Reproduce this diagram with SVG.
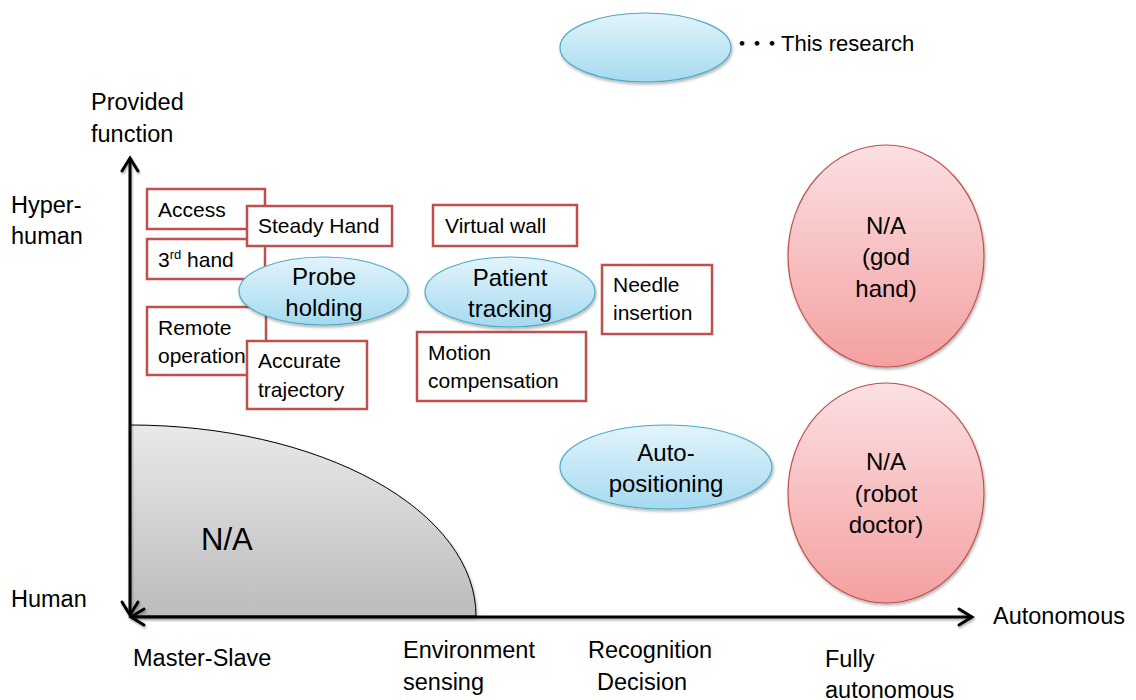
<svg xmlns="http://www.w3.org/2000/svg" width="1136" height="700" viewBox="0 0 1136 700">
<defs>
<style>
text{font-family:"Liberation Sans","Noto Sans",Arial,sans-serif;fill:#000}
.lbl{font-size:23.5px}
.box rect{fill:#fff;stroke:#c0504d;stroke-width:2.5}
.box text{font-size:21px}
.blue ellipse{fill:url(#gBlue);stroke:#4bacc6;stroke-width:1.2;filter:url(#sh)}
.blue text,.red text{font-size:24px;text-anchor:middle}
.red ellipse{fill:url(#gRed);stroke:#c0504d;stroke-width:1.2;filter:url(#sh)}
.axis{stroke:#000;stroke-width:3;fill:none;marker-start:url(#arr);marker-end:url(#arr);filter:url(#shU)}
</style>
<linearGradient id="gBlue" x1="0" y1="0" x2="0" y2="1">
<stop offset="0" stop-color="#e2f4fb"/><stop offset="1" stop-color="#a5daf0"/>
</linearGradient>
<linearGradient id="gRed" x1="0" y1="0" x2="0" y2="1">
<stop offset="0" stop-color="#fbe0e3"/><stop offset="1" stop-color="#f4a0a0"/>
</linearGradient>
<linearGradient id="gGray" x1="0" y1="0" x2="0" y2="1">
<stop offset="0" stop-color="#e9e9e9"/><stop offset="1" stop-color="#bcbcbc"/>
</linearGradient>
<filter id="sh" x="-10%" y="-10%" width="130%" height="130%">
<feDropShadow dx="1" dy="2" stdDeviation="1.5" flood-color="#000" flood-opacity="0.3"/>
</filter>
<filter id="shU" filterUnits="userSpaceOnUse" x="0" y="0" width="1136" height="700">
<feDropShadow dx="1" dy="2" stdDeviation="1.2" flood-color="#000" flood-opacity="0.3"/>
</filter>
<marker id="arr" markerUnits="userSpaceOnUse" markerWidth="24" markerHeight="24" viewBox="-18 -12 24 24" refX="0" refY="0" orient="auto-start-reverse">
<path d="M-13,-8 L0,0 L-13,8" fill="none" stroke="#000" stroke-width="3" stroke-linecap="round" stroke-linejoin="miter"/>
</marker>
</defs>
<rect width="1136" height="700" fill="#fff"/>

<g id="na-region">
<path d="M130,616 L130,425 A346,191 0 0 1 476,616 Z" fill="url(#gGray)" stroke="#000" stroke-width="1" filter="url(#sh)"/>
<text x="201" y="550" style="font-size:31px">N/A</text>
</g>

<g id="connectors">
<path class="axis" d="M130,615 L130,158"/>
<path class="axis" d="M131,617 L972,617"/>
</g>

<g id="legend" class="blue">
<ellipse cx="645.5" cy="47.5" rx="85.5" ry="34.5"/>
<text style="font-size:22px;text-anchor:start;font-family:'Liberation Sans','Noto Sans CJK JP',sans-serif" y="51"><tspan x="731 746 761">・・・</tspan><tspan x="781">This research</tspan></text>
</g>

<g id="axis-labels" class="lbl">
<text x="91" y="110">Provided</text>
<text x="91" y="142">function</text>
<text x="11" y="213">Hyper-</text>
<text x="11" y="244">human</text>
<text x="11" y="607">Human</text>
<text x="133" y="666">Master-Slave</text>
<text x="403" y="658">Environment</text>
<text x="403" y="690">sensing</text>
<text x="588" y="658">Recognition</text>
<text x="597" y="690">Decision</text>
<text x="825" y="667">Fully</text>
<text x="825" y="698">autonomous</text>
<text x="993" y="624">Autonomous</text>
</g>

<g id="access" class="box">
<rect x="147" y="189" width="118" height="40"/>
<text x="158" y="217">Access</text>
</g>
<g id="third-hand" class="box">
<rect x="147" y="239" width="118" height="40"/>
<text x="158" y="267">3<tspan dy="-8" style="font-size:13px">rd</tspan><tspan dy="8"> hand</tspan></text>
</g>
<g id="remote-operation" class="box">
<rect x="147" y="307" width="119" height="68"/>
<text x="158" y="335">Remote</text>
<text x="158" y="363">operation</text>
</g>
<g id="steady-hand" class="box">
<rect x="247" y="206" width="145" height="40"/>
<text x="258" y="233">Steady Hand</text>
</g>
<g id="accurate-trajectory" class="box">
<rect x="247" y="341" width="120" height="68"/>
<text x="258" y="368">Accurate</text>
<text x="258" y="397">trajectory</text>
</g>
<g id="virtual-wall" class="box">
<rect x="433" y="205" width="144" height="41"/>
<text x="445" y="233">Virtual wall</text>
</g>
<g id="needle-insertion" class="box">
<rect x="602" y="265" width="110" height="69"/>
<text x="613" y="292">Needle</text>
<text x="613" y="320">insertion</text>
</g>
<g id="motion-compensation" class="box">
<rect x="417" y="332" width="169" height="69"/>
<text x="428" y="360">Motion</text>
<text x="428" y="388">compensation</text>
</g>

<g id="probe-holding" class="blue">
<ellipse cx="323.5" cy="291" rx="84.5" ry="34"/>
<text x="324" y="285">Probe</text>
<text x="324" y="316">holding</text>
</g>
<g id="patient-tracking" class="blue">
<ellipse cx="510" cy="292" rx="85" ry="35"/>
<text x="510" y="286">Patient</text>
<text x="510" y="317">tracking</text>
</g>
<g id="auto-positioning" class="blue">
<ellipse cx="666" cy="467" rx="106" ry="42"/>
<text x="666" y="461">Auto-</text>
<text x="666" y="492">positioning</text>
</g>

<g id="god-hand" class="red">
<ellipse cx="886" cy="256" rx="98" ry="111"/>
<text x="886" y="234">N/A</text>
<text x="886" y="265">(god</text>
<text x="886" y="297">hand)</text>
</g>
<g id="robot-doctor" class="red">
<ellipse cx="886" cy="493" rx="98" ry="110"/>
<text x="886" y="470">N/A</text>
<text x="886" y="502">(robot</text>
<text x="886" y="533">doctor)</text>
</g>
</svg>
